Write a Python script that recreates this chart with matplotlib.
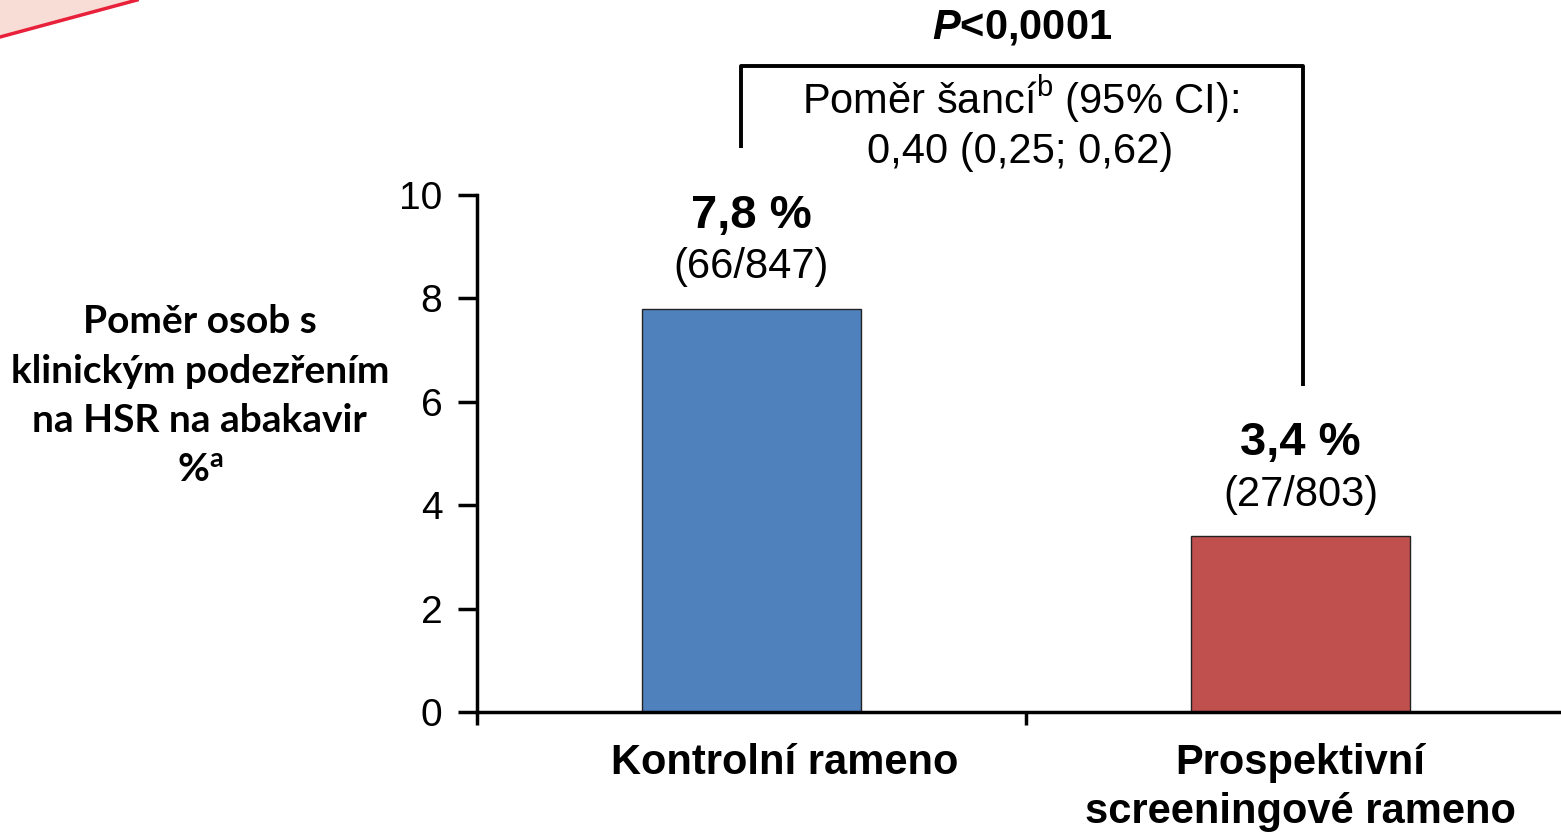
import matplotlib
matplotlib.use("Agg")
import matplotlib.pyplot as plt
from matplotlib.patches import Polygon
from matplotlib.lines import Line2D

plt.rcParams["font.family"] = ["Liberation Sans", "DejaVu Sans"]
plt.rcParams["mathtext.fontset"] = "custom"
plt.rcParams["mathtext.it"] = "Liberation Sans:italic:bold"
plt.rcParams["mathtext.rm"] = "Liberation Sans"

categories = ["Kontrolní rameno", "Prospektivní\nscreeningové rameno"]
values = [7.8, 3.4]
value_labels = ["7,8 %", "3,4 %"]
count_labels = ["(66/847)", "(27/803)"]
colors = ["#4F81BD", "#C0504D"]
y_ticks = [0, 2, 4, 6, 8, 10]

fig = plt.figure(figsize=(15.61, 8.35), dpi=100)
ax = fig.add_axes([0.3056, 0.1473, 0.7034, 0.6192])

x = list(range(len(categories)))
ax.bar(x, values, width=0.4, color=colors, edgecolor="#222222", linewidth=1)

ax.set_xlim(-0.5, 1.5)
ax.set_ylim(0, 10)
ax.set_yticks(y_ticks)
ax.set_yticklabels([str(t) for t in y_ticks], fontsize=28)
ax.set_xticks([-0.5, 0.5])
ax.set_xticklabels([])
ax.tick_params(axis="y", direction="out", length=14, width=2.5, pad=11)
ax.tick_params(axis="x", direction="out", length=9, width=2.5)
for side in ["top", "right"]:
    ax.spines[side].set_visible(False)
for side in ["left", "bottom"]:
    ax.spines[side].set_linewidth(2.5)

# category labels (first one sits a bit right of its bar in the original)
label_shift = [0.06, 0.0]
for xi, cat, dx in zip(x, categories, label_shift):
    ax.text(xi + dx, -0.6, cat, ha="center", va="top", fontsize=30, fontweight="bold",
            linespacing=1.3, clip_on=False)

# bar value labels
for xi, v, vl, cl in zip(x, values, value_labels, count_labels):
    ax.text(xi, v + 1.8, vl, ha="center", va="center", fontsize=34, fontweight="bold")
    ax.text(xi, v + 0.8, cl, ha="center", va="center", fontsize=30)

# y label
fig.text(0.128, 0.526, "Poměr osob s\nklinickým podezřením\nna HSR na abakavir\n%$^{\\mathregular{a}}$",
         ha="center", va="center", fontsize=28, fontweight="bold",
         family=["Lato", "DejaVu Sans"], linespacing=1.5)

# significance bracket
bx0, bx1 = -0.02, 1.005
ax.plot([bx0, bx0, bx1, bx1], [10.9, 12.5, 12.5, 6.3], color="black", lw=2.8,
        clip_on=False, solid_capstyle="butt")
ax.text(0.492, 13.23, "$P$<0,0001", ha="center", va="center", fontsize=30, fontweight="bold")
ax.text(0.489, 11.86, "Poměr šancí$^{\\mathregular{b}}$ (95% CI):", ha="center", va="center",
        fontsize=30)
ax.text(0.489, 10.83, "0,40 (0,25; 0,62)", ha="center", va="center", fontsize=30)

# decorative swoosh top-left
fig.patches.append(Polygon([[0, 1], [0, 1 - 37 / 835], [137 / 1561, 1]], closed=True,
                           transform=fig.transFigure, facecolor="#F8DCD6", edgecolor="none"))
fig.lines.append(Line2D([0, 137 / 1561], [1 - 37 / 835, 1], transform=fig.transFigure,
                        color="#E8203A", lw=2.5))

fig.savefig("out.png", dpi=100)
